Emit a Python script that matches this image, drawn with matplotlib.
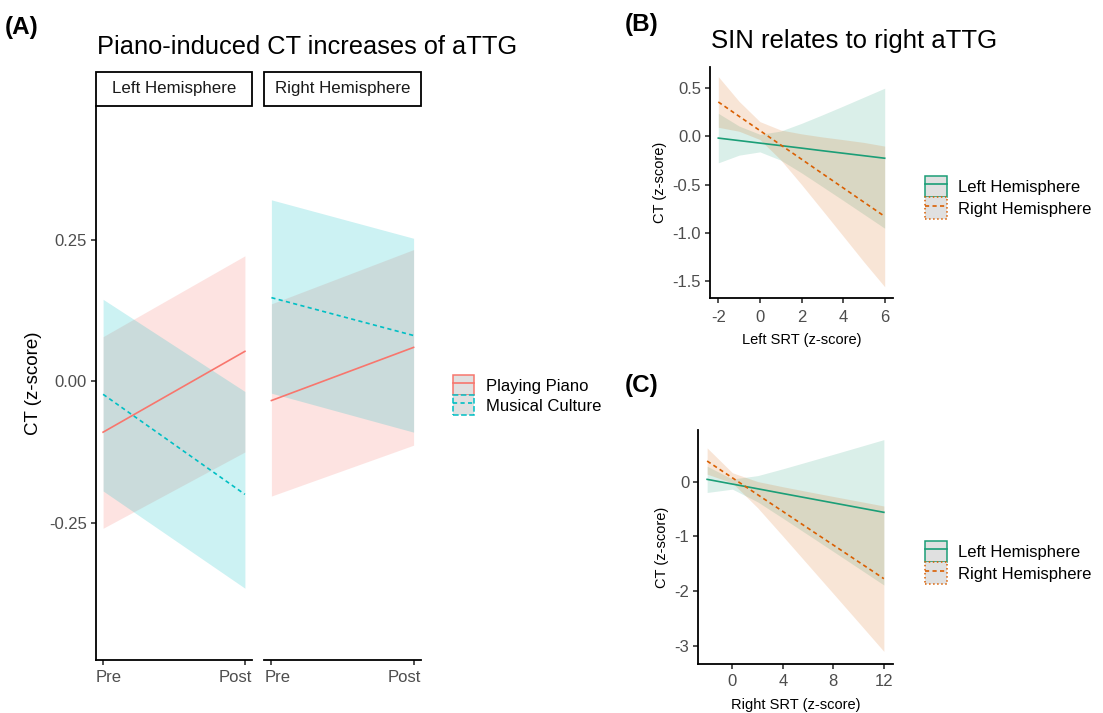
import matplotlib
matplotlib.use("Agg")
import matplotlib.pyplot as plt
import matplotlib.transforms as mtransforms
from matplotlib.patches import Patch, Rectangle
from matplotlib.lines import Line2D

plt.rcParams['font.family'] = ['Liberation Sans', 'DejaVu Sans']
plt.rcParams['axes.unicode_minus'] = False

# ==========================================
# data
# ==========================================
# (A) piano-induced CT, two time points per hemisphere
times = ["Pre", "Post"]
hemis = ["Left Hemisphere", "Right Hemisphere"]
groups = ["Playing Piano", "Musical Culture"]

lh_piano_fit = [-0.090, 0.053]
lh_piano_lo = [-0.260, -0.125]
lh_piano_hi = [0.079, 0.222]
lh_culture_fit = [-0.023, -0.200]
lh_culture_lo = [-0.194, -0.366]
lh_culture_hi = [0.145, -0.018]

rh_piano_fit = [-0.034, 0.060]
rh_piano_lo = [-0.203, -0.113]
rh_piano_hi = [0.137, 0.233]
rh_culture_fit = [0.148, 0.081]
rh_culture_lo = [-0.021, -0.090]
rh_culture_hi = [0.321, 0.253]

# (B) CT vs left SRT
left_srt = [-2, -1, 0, 1, 2, 3, 4, 5, 6]
b_lh_fit = [-0.017, -0.043, -0.069, -0.095, -0.121, -0.148, -0.174, -0.200, -0.226]
b_lh_hi = [0.240, 0.108, 0.022, 0.056, 0.136, 0.224, 0.315, 0.408, 0.501]
b_lh_lo = [-0.274, -0.194, -0.160, -0.246, -0.378, -0.520, -0.663, -0.808, -0.953]
b_rh_fit = [0.358, 0.209, 0.061, -0.088, -0.236, -0.385, -0.533, -0.682, -0.830]
b_rh_hi = [0.621, 0.364, 0.154, 0.067, 0.027, -0.005, -0.033, -0.062, -0.100]
b_rh_lo = [0.095, 0.054, -0.032, -0.243, -0.499, -0.765, -1.033, -1.302, -1.560]

# (C) CT vs right SRT
right_srt = [-2, 0, 2, 4, 6, 8, 10, 12]
c_lh_fit = [0.043, -0.043, -0.129, -0.216, -0.302, -0.388, -0.474, -0.560]
c_lh_hi = [0.283, 0.050, 0.111, 0.236, 0.368, 0.501, 0.635, 0.770]
c_lh_lo = [-0.197, -0.136, -0.369, -0.668, -0.972, -1.277, -1.583, -1.890]
c_rh_fit = [0.378, 0.071, -0.237, -0.544, -0.852, -1.159, -1.466, -1.774]
c_rh_hi = [0.618, 0.164, 0.003, -0.092, -0.182, -0.270, -0.357, -0.444]
c_rh_lo = [0.138, -0.022, -0.477, -0.996, -1.522, -2.048, -2.575, -3.104]

# ==========================================
# styling
# ==========================================
W, H = 1103, 713
RED, CYAN = '#F8766D', '#00BFC4'
GREEN, ORANGE = '#1B9E77', '#D95F02'
TICK_GREY = '#4D4D4D'
KEY_FILL = '#e0e0e0'
DASH = (2.5, 2.0)


def box(x0, y0, x1, y1):
    # pixel box (top-left origin) -> figure fraction
    return [x0 / W, 1 - y1 / H, (x1 - x0) / W, (y1 - y0) / H]


def classic(ax, left=True):
    for s in ['top', 'right']:
        ax.spines[s].set_visible(False)
    ax.spines['bottom'].set_linewidth(1.3)
    ax.spines['left'].set_linewidth(1.3)
    if not left:
        ax.spines['left'].set_visible(False)
    ax.tick_params(direction='out', length=3.5, width=1.1, color='#222222',
                   labelcolor=TICK_GREY, labelsize=12, pad=3)
    ax.set_facecolor('none')


def band(ax, x, fit, lo, hi, color, dashed, alpha=0.2):
    ax.fill_between(x, lo, hi, color=color, alpha=alpha, linewidth=0)
    line, = ax.plot(x, fit, color=color, lw=1.2)
    if dashed:
        line.set_dashes(DASH)


def key_handles(c1, c2, edge2):
    return [
        (Patch(facecolor=KEY_FILL, edgecolor=c1, lw=1.1), Line2D([], [], color=c1, lw=1.2)),
        (Patch(facecolor=KEY_FILL, edgecolor=c2, lw=1.1, linestyle=edge2),
         Line2D([], [], color=c2, lw=1.2, dashes=DASH)),
    ]


fig = plt.figure(figsize=(W / 100, H / 100), dpi=100)

# ==========================================
# (A)
# ==========================================
axL = fig.add_axes(box(96, 106, 252, 660))
axR = fig.add_axes(box(264.3, 106, 420.7, 660))
panelA = [
    (axL, lh_piano_fit, lh_piano_lo, lh_piano_hi, lh_culture_fit, lh_culture_lo, lh_culture_hi),
    (axR, rh_piano_fit, rh_piano_lo, rh_piano_hi, rh_culture_fit, rh_culture_lo, rh_culture_hi),
]
xpos = list(range(len(times)))
xlimA = (-0.05, 1.05)
for i, (ax, pf, pl, ph, cf, cl, ch) in enumerate(panelA):
    band(ax, xpos, pf, pl, ph, RED, False)
    band(ax, xpos, cf, cl, ch, CYAN, True)
    ax.set_xlim(*xlimA)
    ax.set_ylim(-0.493, 0.487)
    ax.set_xticks(xpos)
    classic(ax, left=(i == 0))
    ax.tick_params(axis='x', labelbottom=False)
    # tick labels pushed to the panel edges, as in the original
    trans = mtransforms.blended_transform_factory(ax.transData, ax.transAxes)
    ax.text(xlimA[0], -10.5 / 554, times[0], transform=trans, ha='left', va='top',
            fontsize=12, color=TICK_GREY)
    ax.text(xlimA[1], -10.5 / 554, times[1], transform=trans, ha='right', va='top',
            fontsize=12, color=TICK_GREY)
    if i == 0:
        ax.set_yticks([-0.25, 0.0, 0.25])
        ax.set_yticklabels(['-0.25', '0.00', '0.25'])
    else:
        ax.set_yticks([])
    # facet strip
    ax.add_patch(Rectangle((0, 1), 1, 34 / 554, transform=ax.transAxes, clip_on=False,
                           facecolor='white', edgecolor='black', lw=1.3))
    ax.text(0.5, 1 + 17 / 554, hemis[i], transform=ax.transAxes, ha='center', va='center',
            fontsize=12.2, color='#1a1a1a')

axL.set_ylabel('CT (z-score)', fontsize=13.5, labelpad=5)
fig.text(97 / W, 1 - 54 / H, 'Piano-induced CT increases of aTTG', fontsize=18.3)
fig.text(5 / W, 1 - 34 / H, '(A)', fontsize=17.5, fontweight='bold')

fig.legend(key_handles(RED, CYAN, '--'), groups, loc='upper left',
           bbox_to_anchor=(453 / W, 1 - 375 / H),
           frameon=False, fontsize=12, handlelength=1.26, handleheight=1.47,
           handletextpad=0.75, labelspacing=0.0, borderpad=0, borderaxespad=0)

# ==========================================
# (B)
# ==========================================
axB = fig.add_axes(box(710, 67, 893, 298))
band(axB, left_srt, b_lh_fit, b_lh_lo, b_lh_hi, GREEN, False, alpha=0.16)
band(axB, left_srt, b_rh_fit, b_rh_lo, b_rh_hi, ORANGE, True, alpha=0.16)
axB.set_xlim(-2.4, 6.4)
axB.set_ylim(-1.677, 0.721)
axB.set_xticks([-2, 0, 2, 4, 6])
axB.set_xticklabels(['-2', '0', '2', '4', '6'])
axB.set_yticks([0.5, 0.0, -0.5, -1.0, -1.5])
axB.set_yticklabels(['0.5', '0.0', '-0.5', '-1.0', '-1.5'])
classic(axB)
axB.tick_params(axis='x', pad=5)
axB.set_xlabel('Left SRT (z-score)', fontsize=10.5, labelpad=6)
axB.set_ylabel('CT (z-score)', fontsize=10.5, labelpad=4)
fig.text(711 / W, 1 - 48 / H, 'SIN relates to right aTTG', fontsize=18.5)
fig.text(625 / W, 1 - 31 / H, '(B)', fontsize=17.5, fontweight='bold')

fig.legend(key_handles(GREEN, ORANGE, ':'), hemis, loc='upper left',
           bbox_to_anchor=(925 / W, 1 - 176 / H),
           frameon=False, fontsize=12, handlelength=1.3, handleheight=1.6,
           handletextpad=0.65, labelspacing=0.0, borderpad=0, borderaxespad=0)

# ==========================================
# (C)
# ==========================================
axC = fig.add_axes(box(698.3, 430, 892.7, 664))
band(axC, right_srt, c_lh_fit, c_lh_lo, c_lh_hi, GREEN, False, alpha=0.16)
band(axC, right_srt, c_rh_fit, c_rh_lo, c_rh_hi, ORANGE, True, alpha=0.16)
axC.set_xlim(-2.7, 12.7)
axC.set_ylim(-3.335, 0.946)
axC.set_xticks([0, 4, 8, 12])
axC.set_xticklabels(['0', '4', '8', '12'])
axC.set_yticks([0, -1, -2, -3])
axC.set_yticklabels(['0', '-1', '-2', '-3'])
classic(axC)
axC.tick_params(axis='x', pad=4)
axC.set_xlabel('Right SRT (z-score)', fontsize=10.5, labelpad=6)
axC.set_ylabel('CT (z-score)', fontsize=10.5, labelpad=4)
fig.text(625 / W, 1 - 392 / H, '(C)', fontsize=17.5, fontweight='bold')

fig.legend(key_handles(GREEN, ORANGE, ':'), hemis, loc='upper left',
           bbox_to_anchor=(925 / W, 1 - 541 / H),
           frameon=False, fontsize=12, handlelength=1.3, handleheight=1.6,
           handletextpad=0.65, labelspacing=0.0, borderpad=0, borderaxespad=0)

fig.savefig('out.png', dpi=100, facecolor='white')
